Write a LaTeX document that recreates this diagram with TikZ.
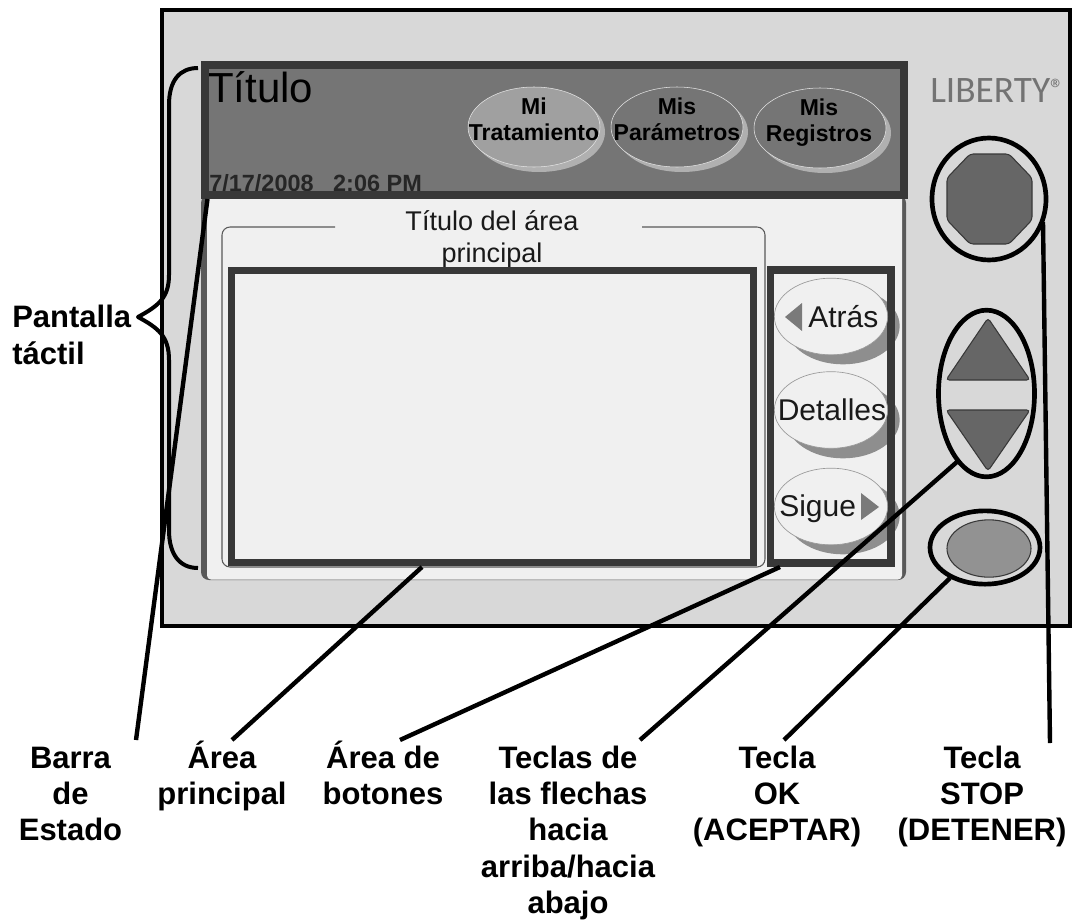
\documentclass[tikz,border=0pt]{standalone}
\usepackage{fontspec}
\setmainfont{Liberation Sans}
\newfontfamily\logofont{Carlito}
\usetikzlibrary{shapes.geometric}
\definecolor{framegray}{HTML}{D8D8D8}
\definecolor{bardark}{HTML}{383838}
\definecolor{barmid}{HTML}{757575}
\definecolor{screenlight}{HTML}{F0F0F0}
\definecolor{btnlit}{HTML}{A0A0A0}
\definecolor{keydark}{HTML}{666666}
\definecolor{keyok}{HTML}{929292}
\definecolor{btnshadow}{HTML}{8E8E8E}
\definecolor{topshadow}{HTML}{B0B0B0}
\newcommand{\tstrut}{\rule{0pt}{24pt}}
\tikzset{
  x=0.75pt,y=-0.75pt,
  label/.style={inner sep=0pt,outer sep=0pt,anchor=north,align=center,font=\fontsize{23.25}{27.3}\selectfont\bfseries},
  leader/.style={line width=3.3pt,black,line cap=butt},
  thickbox/.style={draw=bardark,line width=5.3pt,fill=screenlight,line join=miter},
  topbtn/.style={ellipse,inner sep=0pt,minimum width=99pt,minimum height=60pt,draw=#1},
  topbtn/.default={black!10},
  sidebtn/.style={ellipse,inner sep=0pt,minimum width=85pt,minimum height=57.5pt,fill=screenlight,draw=gray!80,line width=0.5pt},
  sideshadow/.style={ellipse,inner sep=0pt,minimum width=85pt,minimum height=57.5pt,fill=btnshadow},
  topshade/.style={ellipse,inner sep=0pt,minimum width=99pt,minimum height=60pt,fill=topshadow},
  bartext/.style={inner sep=0pt,anchor=base,align=center,font=\fontsize{17.25}{19.5}\selectfont\bfseries},
  sidetext/.style={inner sep=0pt,anchor=base,font=\fontsize{22.5}{24}\selectfont,text=black!90},
  ring/.style={ellipse,inner sep=0pt,draw=black,line width=3.5pt},
  keyshape/.style={fill=keydark,draw=bardark,line width=0.8pt,rounded corners=2.5pt},
  sidearrow/.style={fill=black!52},
}
\begin{document}
\begin{tikzpicture}
\useasboundingbox (0,0) rectangle (1078,921);
% outer frame
\draw[fill=framegray,draw=black,line width=3pt] (162,10) rectangle (1070,626);
% touch screen
\path[fill=black!65,rounded corners=6pt] (201,195) -- (201,580) -- (906,580) -- (906,195) -- cycle;
\path[fill=screenlight,rounded corners=3pt] (207,195) -- (207,579.5) -- (902,579.5) -- (902,195) -- cycle;
% panel outline with gap for title
\draw[black!65,line width=0.8pt,rounded corners=6pt] (335,227) -- (222,227) -- (222,567) -- (765,567) -- (765,227) -- (642,227);
\node[inner sep=0pt,anchor=base,font=\fontsize{20.3}{24}\selectfont,text=black!90] (areatitle) at (492,230) {Título del área};
\node[inner sep=0pt,anchor=base,font=\fontsize{20.3}{24}\selectfont,text=black!90] (areatitleb) at (492,262) {principal};
% main area
\node[thickbox,inner sep=0pt,minimum width=391.5pt,minimum height=219.5pt] (mainarea) at (492.5,416.5) {};
% button shadows
\node[sideshadow] (s1) at (843,326) {};
\node[sideshadow] (s2) at (843,420) {};
\node[sideshadow] (s3) at (843,516) {};
% button area
\draw[draw=bardark,line width=5.3pt] (770.5,270) rectangle (891,563);
\coordinate (btnbox) at (780,567);
\node[sidebtn] (atras) at (831,316.5) {};
\node[sidebtn] (detalles) at (831,410) {};
\node[sidebtn] (sigue) at (831,506.5) {};
\node[sidetext,anchor=base west] (atrastxt) at (808,327) {Atrás};
\node[sidetext] (detallestxt) at (832,420) {Detalles};
\node[sidetext,anchor=base west] (siguetxt) at (779,516) {Sigue};
\fill[sidearrow] (785,317) -- (802,303) -- (802,331) -- cycle;
\fill[sidearrow] (879,507) -- (861,493) -- (861,520) -- cycle;
% status bar
\fill[barmid] (204,64) rectangle (904,195);
\node[inner sep=0pt,anchor=base west,font=\fontsize{31.5}{36}\selectfont] (titulo) at (208,102) {Título};
\node[inner sep=0pt,anchor=base west,font=\fontsize{17.6}{20}\selectfont\bfseries,text=black!85] (fecha) at (209,191.5) {7/17/2008\ \ \ 2:06 PM};
\draw[draw=bardark,line width=6pt] (204.5,64.5) rectangle (903.5,195);
% status bar buttons
\node[topshade] (t1s) at (539,132) {};
\node[topshade] (t2s) at (682,132) {};
\node[topshade] (t3s) at (825,133) {};
\node[topbtn,fill=btnlit] (t1) at (534,127) {};
\node[topbtn,fill=barmid] (t2) at (677,127) {};
\node[topbtn,fill=barmid] (t3) at (820,128) {};
\node[bartext] (t1a) at (534,114) {Mi};
\node[bartext] (t1b) at (534,140) {Tratamiento};
\node[bartext] (t2a) at (677,114) {Mis};
\node[bartext] (t2b) at (677,140) {Parámetros};
\node[bartext] (t3a) at (819,115) {Mis};
\node[bartext] (t3b) at (819,141) {Registros};
% logo
\node[inner sep=0pt,anchor=base west,font=\logofont\fontsize{28}{30}\selectfont,text=black!55] (logo) at (930,102) {LIBERTY\raisebox{3pt}{\fontsize{21}{21}\selectfont ®}};
% keys
\draw[keyshape] (970,154) -- (1009,154) -- (1032,178) -- (1032,220) -- (1009,244) -- (970,244) -- (947,220) -- (947,178) -- cycle;
\node[ring,minimum width=85.5pt,minimum height=91.5pt] (stopring) at (989,199) {};
\draw[keyshape] (988,318) -- (1030,380) -- (946,380) -- cycle;
\draw[keyshape] (988,471) -- (1030,410) -- (946,410) -- cycle;
\node[ring,minimum width=72pt,minimum height=125pt] (arrowring) at (986.5,393.5) {};
\node[ellipse,inner sep=0pt,fill=keyok,draw=bardark,line width=0.8pt,minimum width=63pt,minimum height=43pt] (okkey) at (989,548.5) {};
\node[ring,minimum width=82.5pt,minimum height=55pt] (okring) at (985,547.5) {};
% brace
\coordinate (bt) at (198,68);
\coordinate (bm) at (138,317);
\coordinate (bb) at (198,568);
\draw[line width=3pt,black,line join=round] (bt) .. controls (180,68) and (169,80) .. (169,105) -- (169,275) .. controls (169,298) and (158,306) .. (bm) .. controls (158,328) and (169,336) .. (169,360) -- (169,530) .. controls (169,555) and (180,568) .. (bb);
% labels
\node[inner sep=0pt,anchor=base west,align=left,font=\fontsize{23.25}{27.3}\selectfont\bfseries] (pant) at (12,327) {Pantalla};
\node[inner sep=0pt,anchor=base west,align=left,font=\fontsize{23.25}{27.3}\selectfont\bfseries] (tact) at (12,364) {táctil};
\node[label] (lbarra) at (70.5,736) {\tstrut Barra\\de\\Estado};
\node[label] (lprin) at (222,736) {\tstrut Área\\principal};
\node[label] (lboton) at (383,736) {\tstrut Área de\\botones};
\node[label] (lteclas) at (568,736) {\tstrut Teclas de\\las flechas\\hacia\\arriba/hacia\\abajo};
\node[label] (lok) at (777,736) {\tstrut Tecla\\OK\\(ACEPTAR)};
\node[label] (lstop) at (982,736) {\tstrut Tecla\\STOP\\(DETENER)};
% leader ends
\coordinate (ebarra) at (207.5,199);
\coordinate (ebarral) at (136,740);
\coordinate (eprin) at (422,567);
\coordinate (eprinl) at (232,740);
\coordinate (ebtnl) at (400,740);
\coordinate (etec) at (958,461);
\coordinate (etecl) at (640,740);
\coordinate (eok) at (950,578);
\coordinate (eokl) at (784,740);
\coordinate (estop) at (1043,222);
\coordinate (estopl) at (1050,743);
\draw[leader] (ebarra) -- (ebarral);
\draw[leader] (eprin) -- (eprinl);
\draw[leader] (btnbox) -- (ebtnl);
\draw[leader] (etec) -- (etecl);
\draw[leader] (eok) -- (eokl);
\draw[leader] (estop) -- (estopl);
\end{tikzpicture}
\end{document}
